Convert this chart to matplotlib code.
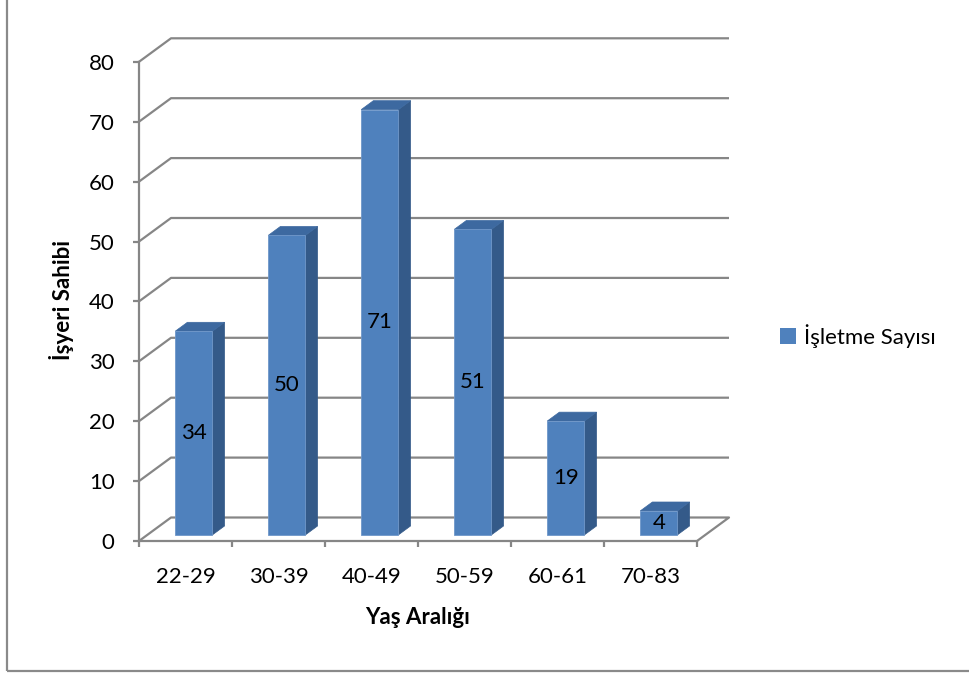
import matplotlib
matplotlib.use("Agg")
import matplotlib.pyplot as plt
from matplotlib.patches import Polygon, Rectangle

categories = ["22-29", "30-39", "40-49", "50-59", "60-61", "70-83"]
values = [34, 50, 71, 51, 19, 4]
yticks = [0, 10, 20, 30, 40, 50, 60, 70, 80]
series_name = "İşletme Sayısı"
xlabel = "Yaş Aralığı"
ylabel = "İşyeri Sahibi"

plt.rcParams['font.family'] = ['Lato', 'DejaVu Sans']

W, H = 969, 677
fig = plt.figure(figsize=(W / 100, H / 100), dpi=100)
ax = fig.add_axes([0, 0, 1, 1])
ax.set_facecolor('none')

# pixel mapping
x0px, catpx = 139, 93
y0px, unitpx = 541, 5.99
ax.set_xlim(-0.5 - x0px / catpx, -0.5 + (W - x0px) / catpx)
ax.set_ylim((y0px - H) / unitpx, y0px / unitpx)

# oblique depth offsets (data units)
DX = 32 / catpx
DY = 23.5 / unitpx
n = len(categories)
ymax = yticks[-1]
grid_c = '#868686'
glw = 1.6
fs = 16

# back wall gridlines with left diagonals
for v in yticks[1:]:
    ax.plot([-0.5, -0.5 + DX, n - 0.5 + DX], [v, v + DY, v + DY],
            color=grid_c, lw=glw, zorder=1, solid_capstyle='butt')
# floor
ax.plot([-0.5, -0.5 + DX, n - 0.5 + DX, n - 0.5], [0, DY, DY, 0],
        color=grid_c, lw=glw, zorder=1)

# bars
z0, z1 = 0.26, 0.64
hw = 0.2
front_c, top_c, side_c = '#4F81BD', '#3D69A0', '#345A89'
for i, v in enumerate(values):
    xl, xr = i - hw, i + hw
    fx, fy = z0 * DX, z0 * DY
    bx, by = z1 * DX, z1 * DY
    side = Polygon([(xr + fx, fy), (xr + bx, by), (xr + bx, v + by), (xr + fx, v + fy)],
                   closed=True, facecolor=side_c, edgecolor=side_c, lw=0.5, zorder=3)
    top = Polygon([(xl + fx, v + fy), (xr + fx, v + fy), (xr + bx, v + by), (xl + bx, v + by)],
                  closed=True, facecolor=top_c, edgecolor=top_c, lw=0.5, zorder=3)
    front = Polygon([(xl + fx, fy), (xr + fx, fy), (xr + fx, v + fy), (xl + fx, v + fy)],
                    closed=True, facecolor=front_c, edgecolor='#6f97c9', lw=0.6, zorder=4)
    for p in (side, top, front):
        ax.add_patch(p)
    ax.text(i + fx, fy + v / 2, str(v), ha='center', va='center',
            fontsize=fs, color='black', zorder=5)

# axes spines / ticks
for s in ('top', 'right'):
    ax.spines[s].set_visible(False)
ax.spines['left'].set_position(('data', -0.5))
ax.spines['left'].set_bounds(0, ymax)
ax.spines['bottom'].set_position(('data', 0))
ax.spines['bottom'].set_bounds(-0.5, n - 0.5)
for s in ('left', 'bottom'):
    ax.spines[s].set_color(grid_c)
    ax.spines[s].set_linewidth(glw)
ax.set_yticks(yticks)
ax.set_yticklabels([str(t) for t in yticks])
ax.tick_params(axis='y', length=4.5, width=glw, color=grid_c, pad=13, labelsize=fs)
ax.set_xticks([k - 0.5 for k in range(n + 1)])
ax.set_xticklabels([''] * (n + 1))
ax.set_xticks(list(range(n)), minor=True)
ax.set_xticklabels(categories, minor=True)
ax.tick_params(axis='x', which='major', length=4.5, width=glw, color=grid_c)
ax.tick_params(axis='x', which='minor', length=0, pad=19, labelsize=fs)

ax.text((n - 1) / 2, (y0px - 618) / unitpx, xlabel, ha='center', va='center',
        fontsize=fs, fontweight='bold')
ax.text(-0.5 - (x0px - 62) / catpx, ymax / 2 + (y0px - 300 - ymax / 2 * unitpx) / unitpx,
        ylabel, ha='center', va='center', rotation=90, fontsize=fs, fontweight='bold')

# legend
proxy = Rectangle((0, 0), 1, 1, facecolor=front_c, edgecolor='none')
leg = ax.legend([proxy], [series_name], loc='center left',
                bbox_to_anchor=(776 / W, 1 - 336 / H), bbox_transform=fig.transFigure,
                frameon=False, fontsize=fs, handlelength=0.68, handleheight=0.68,
                handletextpad=0.4, borderpad=0.2, borderaxespad=0)

# outer border
fig.patches.append(Rectangle((7 / W, 1 - 671 / H), 1.2, 671 / H + 0.01,
                             transform=fig.transFigure, fill=False,
                             edgecolor='#8a8a8a', lw=1.6, clip_on=False))

fig.savefig('out.png', dpi=100, facecolor='white')
